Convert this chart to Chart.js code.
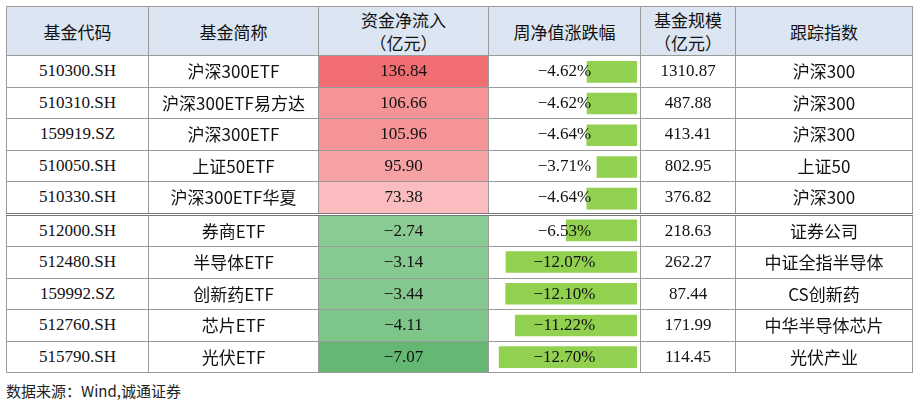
<!DOCTYPE html><html><head><meta charset="utf-8">
<script src="https://cdn.jsdelivr.net/npm/chart.js@4"></script>
<style>
body{margin:0;background:#fff;width:918px;height:406px;overflow:hidden;font-family:"Liberation Serif","Noto Sans CJK SC",serif;}
#wrap{position:absolute;left:6px;top:6px;}
table{border-collapse:collapse;table-layout:fixed;font-size:17px;color:#111;}
td{border:1px solid #9a9a9a;text-align:center;padding:0;height:30.5px;white-space:nowrap;position:relative;z-index:2;line-height:20px}
thead td{background:#dce6f2;height:48px;line-height:23px;font-family:"Noto Sans CJK SC",sans-serif;font-size:17px}
tr.sep td{border-top:3px double #777}
td.cn{font-family:"Noto Sans CJK SC",sans-serif;font-size:17px}
#barbox{position:absolute;z-index:1}
#src{position:absolute;left:6px;top:380px;font-size:15px;font-family:"Noto Sans CJK SC",sans-serif;color:#222}
</style></head><body>
<div id="wrap"><table id="t"><colgroup><col style="width:142px"><col style="width:170px"><col style="width:170px"><col style="width:152px"><col style="width:95px"><col style="width:177px"></colgroup>
<thead><tr><td>基金代码</td><td>基金简称</td><td>资金净流入<br>（亿元）</td><td>周净值涨跌幅</td><td>基金规模<br>（亿元）</td><td>跟踪指数</td></tr></thead><tbody id="tb"></tbody></table>
<div id="barbox"><canvas id="c"></canvas></div></div>
<div id="src">数据来源：Wind,诚通证券</div>
<script>
const codes=["510300.SH","510310.SH","159919.SZ","510050.SH","510330.SH","512000.SH","512480.SH","159992.SZ","512760.SH","515790.SH"];
const names=["沪深300ETF","沪深300ETF易方达","沪深300ETF","上证50ETF","沪深300ETF华夏","券商ETF","半导体ETF","创新药ETF","芯片ETF","光伏ETF"];
const flows=[136.84,106.66,105.96,95.90,73.38,-2.74,-3.14,-3.44,-4.11,-7.07];
const changes=[-4.62,-4.62,-4.64,-3.71,-4.64,-6.53,-12.07,-12.10,-11.22,-12.70];
const sizes=[1310.87,487.88,413.41,802.95,376.82,218.63,262.27,87.44,171.99,114.45];
const indices=["沪深300","沪深300","沪深300","上证50","沪深300","证券公司","中证全指半导体","CS创新药","中华半导体芯片","光伏产业"];
function flowColor(v){
  if(v>0){const t=(v-60)/(137-60);const g=Math.round(205-t*95);return `rgb(${Math.round(252-t*12)},${g},${Math.round(g+3)})`;}
  const t=Math.min(1,(-v-2.5)/4.6);return `rgb(${Math.round(140-t*40)},${Math.round(204-t*20)},${Math.round(150-t*35)})`;
}
const tb=document.getElementById('tb');
codes.forEach((c,i)=>{
  const tr=document.createElement('tr');if(i===5)tr.className='sep';
  tr.innerHTML=`<td>${c}</td><td class="cn">${names[i]}</td><td style="background:${flowColor(flows[i])}">${flows[i].toFixed(2).replace('-','−')}</td><td>${changes[i].toFixed(2).replace('-','−')}%</td><td>${sizes[i].toFixed(2)}</td><td class="cn">${indices[i]}</td>`;
  tb.appendChild(tr);
});
const rows=[...tb.rows];
const first=rows[0].cells[3],last=rows[9].cells[3];
const bb=document.getElementById('barbox');
bb.style.left=first.offsetLeft+'px';bb.style.top=first.offsetTop+'px';
bb.style.width=first.offsetWidth+'px';bb.style.height=(last.offsetTop+last.offsetHeight-first.offsetTop)+'px';
new Chart(document.getElementById('c'),{type:'bar',
 data:{labels:codes,datasets:[{data:changes,backgroundColor:'#92d050',barPercentage:0.68,categoryPercentage:1}]},
 options:{indexAxis:'y',responsive:true,maintainAspectRatio:false,animation:false,
  layout:{padding:{right:4,left:0}},
  plugins:{legend:{display:false},tooltip:{enabled:false}},
  scales:{x:{min:-13.6,max:0,display:false},y:{display:false}}}});
</script></body></html>
